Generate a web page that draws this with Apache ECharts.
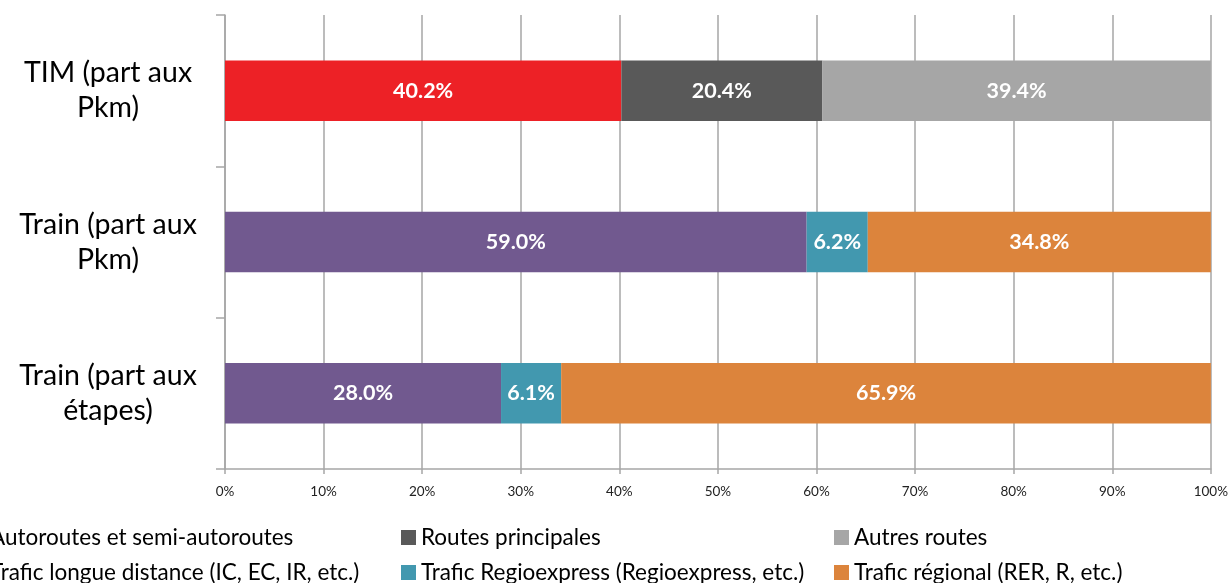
<!DOCTYPE html>
<html>
<head>
<meta charset="utf-8">
<script src="https://cdn.jsdelivr.net/npm/echarts@6/dist/echarts.min.js"></script>
<style>
  html, body { margin: 0; padding: 0; background: #fff; }
  #main { width: 1231px; height: 583px; }
</style>
</head>
<body>
<div id="main"></div>
<script>
// catégories (de haut en bas)
var categories = ['TIM (part aux\nPkm)', 'Train (part aux\nPkm)', 'Train (part aux\nétapes)'];

// parts en %
var autoroutes   = [40.2, null, null];
var principales  = [20.4, null, null];
var autres       = [39.4, null, null];
var longue       = [null, 59.0, 28.0];
var regioexpress = [null, 6.2, 6.1];
var regional     = [null, 34.8, 65.9];

var seriesNames = [
  'Autoroutes et semi-autoroutes',
  'Routes principales',
  'Autres routes',
  'Trafic longue distance (IC, EC, IR, etc.)',
  'Trafic Regioexpress (Regioexpress, etc.)',
  'Trafic régional (RER, R, etc.)'
];
var seriesData = [autoroutes, principales, autres, longue, regioexpress, regional];
var colors = ['#ED2126', '#595959', '#A6A6A6', '#71598F', '#4298AF', '#DC843C'];

var FONT = 'Lato, "Open Sans", sans-serif';
var myChart = echarts.init(document.getElementById('main'));

// légende : 3 colonnes x 2 lignes, une légende par entrée
var legendCols = [-30, 401, 834];
var legendRows = [526, 561];
var legends = seriesNames.map(function (name, i) {
  return {
    left: legendCols[i % 3],
    top: legendRows[Math.floor(i / 3)],
    itemWidth: 15,
    itemHeight: 15,
    icon: 'rect',
    selectedMode: false,
    padding: 0,
    data: [name],
    textStyle: { fontFamily: FONT, fontSize: 22.5, color: '#000', lineHeight: 22 }
  };
});

var option = {
  animation: false,
  textStyle: { fontFamily: FONT },
  grid: { left: 225, right: 20, top: 15, bottom: 114, containLabel: false },
  legend: legends,
  xAxis: {
    type: 'value',
    min: 0,
    max: 100,
    interval: 10,
    axisLine: { show: true, lineStyle: { color: '#A6A6A6', width: 1.5 } },
    axisTick: { show: true, length: 5, lineStyle: { color: '#A6A6A6', width: 1.5 } },
    splitLine: { show: true, lineStyle: { color: '#A6A6A6', width: 1.5 } },
    axisLabel: { formatter: '{value}%', fontSize: 13.5, color: '#222', margin: 16, fontFamily: FONT }
  },
  yAxis: {
    type: 'category',
    inverse: true,
    data: categories,
    axisLine: { show: true, lineStyle: { color: '#A6A6A6', width: 1.5 } },
    axisTick: { show: true, length: 9, lineStyle: { color: '#A6A6A6', width: 1.5 } },
    axisLabel: {
      fontSize: 28.5, color: '#000', lineHeight: 35,
      align: 'center', margin: 117, fontFamily: FONT
    }
  },
  series: seriesData.map(function (d, i) {
    return {
      name: seriesNames[i],
      type: 'bar',
      stack: 'total',
      barWidth: '40%',
      data: d,
      itemStyle: { color: colors[i] },
      label: {
        show: true,
        position: 'inside',
        color: '#fff',
        fontWeight: 'bold',
        fontSize: 21.5,
        fontFamily: FONT,
        formatter: function (p) { return p.value == null ? '' : p.value.toFixed(1) + '%'; }
      }
    };
  })
};

myChart.setOption(option);
</script>
</body>
</html>
